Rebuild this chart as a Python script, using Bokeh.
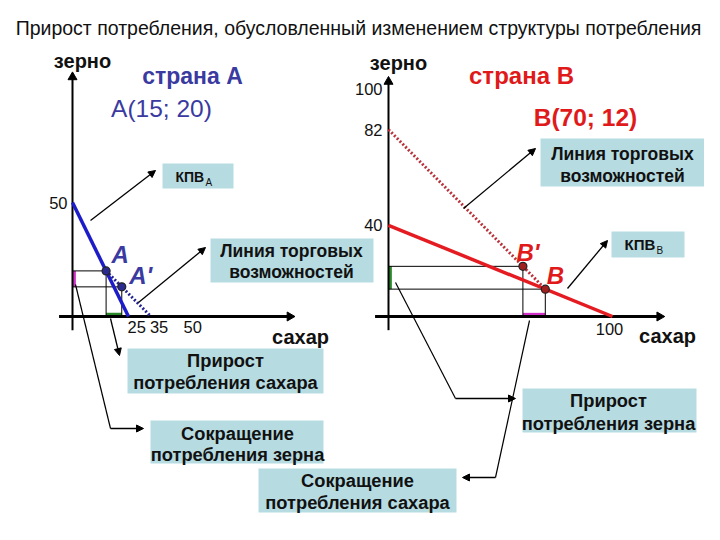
import math
from bokeh.plotting import figure
from bokeh.models import Range1d, Arrow, NormalHead
from bokeh.core.properties import value
from bokeh.embed import file_html
from bokeh.resources import INLINE

FONT = "Liberation Sans"

# ---------------- data ----------------
title_text = "Прирост потребления, обусловленный изменением структуры потребления"
grain_name = "зерно"
sugar_name = "сахар"

# country A
ppf_A_sugar = [0, 25]
ppf_A_grain = [50, 0]
trade_A_sugar = [15, 35]
trade_A_grain = [20, 0]
pts_A_sugar = [15, 22]
pts_A_grain = [20, 13]
pts_A_names = ["А", "А'"]
ticks_A_grain = [50]
ticks_A_sugar = [25, 35, 50]

# country B
ppf_B_sugar = [0, 100]
ppf_B_grain = [40, 0]
trade_B_sugar = [0, 70]
trade_B_grain = [82, 12]
pts_B_sugar = [70, 60]
pts_B_grain = [12, 22]
pts_B_names = ["В", "В'"]
ticks_B_grain = [100, 82, 40]
ticks_B_sugar = [100]

# ---------------- styles ----------------
BLUE = "#1c1cc8"
BLUE_DOT = "#23238f"
BLUE_TXT = "#3a3aa0"
RED = "#e41c22"
RED_DOT = "#b8323c"
RED_TXT = "#e01a1a"
PINK = "#d030c8"
GREEN = "#2a8a2a"
BOXC = "#b6dbe1"

p = figure(width=704, height=524, x_range=Range1d(0, 704), y_range=Range1d(524, 0),
           output_backend="svg", toolbar_location=None, min_border=0,
           x_axis_location=None, y_axis_location=None)
p.grid.visible = False
p.outline_line_color = None


def panel(ox, oy, kx, ky):
    return p.subplot(x_source=Range1d(0, 100), y_source=Range1d(0, 100),
                     x_target=Range1d(ox, ox + 100 * kx),
                     y_target=Range1d(oy, oy - 100 * ky))


sa = panel(72, 316, 2.24, 2.28)
sb = panel(388, 316, 2.24, 2.28)


def txt(target, x, y, t, size, color="#111111", style="normal", align="center",
        baseline="middle", xo=0, yo=0):
    target.text(x=x, y=y, text=t, text_font=value(FONT), text_font_size=f"{size}px",
                text_color=color, text_font_style=style, text_align=align,
                text_baseline=baseline, x_offset=xo, y_offset=yo)


def arrow(x0, y0, x1, y1, size=7, width=1.3):
    p.add_layout(Arrow(end=NormalHead(size=size, fill_color="black", line_color="black"),
                       x_start=x0, y_start=y0, x_end=x1, y_end=y1,
                       line_width=width, line_color="black"))


# title
txt(p, [358], [27], [title_text], 19.5)

# ---------------- boxes ----------------
box_l = [162, 611, 210, 540, 127, 150, 258, 522]
box_r = [233, 684, 373, 705, 323, 323, 456, 696]
box_t = [163, 231, 238, 138, 348, 420, 468, 388]
box_b = [188, 257, 282, 186, 393, 463, 512, 432]
p.quad(left=box_l, right=box_r, top=box_t, bottom=box_b, fill_color=BOXC, line_color=None)

# box texts
txt(p, [175], [176], ["КПВ"], 14, style="bold", align="left")
txt(p, [205], [182], ["А"], 10, align="left")
txt(p, [624], [244], ["КПВ"], 15, style="bold", align="left")
txt(p, [656], [250], ["В"], 10, align="left")
txt(p, [291, 291], [250, 271], ["Линия торговых", "возможностей"], 17.5, style="bold")
txt(p, [622, 622], [153, 175], ["Линия торговых", "возможностей"], 17.5, style="bold")
txt(p, [225, 225], [360, 382], ["Прирост", "потребления сахара"], 18.3, style="bold")
txt(p, [237, 237], [433, 454], ["Сокращение", "потребления зерна"], 18.3, style="bold")
txt(p, [357, 357], [480, 502], ["Сокращение", "потребления сахара"], 18.3, style="bold")
txt(p, [608, 608], [400, 423], ["Прирост", "потребления зерна"], 18.3, style="bold")

# ---------------- panels ----------------
def draw_panel(s, ytop, xright, ppf_s, ppf_g, tr_s, tr_g, ps, pg, col, dcol, ptcol):
    # guides
    s.segment(x0=[0] * len(ps), y0=pg, x1=ps, y1=pg, line_color="black", line_width=1)
    s.segment(x0=ps, y0=[0] * len(ps), x1=ps, y1=pg, line_color="black", line_width=1)
    # axes
    s.segment(x0=[0], y0=[-6], x1=[0], y1=[ytop], line_color="black", line_width=2)
    s.segment(x0=[-6], y0=[0], x1=[xright], y1=[0], line_color="black", line_width=3)
    s.scatter(x=[0], y=[ytop], marker="triangle", size=9, color="black")
    s.scatter(x=[xright], y=[0], marker="triangle", size=9, color="black", angle=-math.pi / 2)
    # lines
    s.line(x=ppf_s, y=ppf_g, line_color=col, line_width=3.5)
    s.line(x=tr_s, y=tr_g, line_color=dcol, line_width=3, line_dash="2 2")
    s.scatter(x=ps, y=pg, size=8, fill_color=ptcol, line_color="#222222", line_width=1.2)


# axis markers (consumption changes)
sa.quad(left=[0], right=[1.5], bottom=[min(pts_A_grain)], top=[max(pts_A_grain)],
        fill_color=PINK, line_color=None)
sa.quad(left=[min(pts_A_sugar)], right=[max(pts_A_sugar)], bottom=[0], top=[1.6],
        fill_color=GREEN, line_color=None)
sb.quad(left=[0], right=[1.5], bottom=[min(pts_B_grain)], top=[max(pts_B_grain)],
        fill_color=GREEN, line_color=None)
sb.quad(left=[min(pts_B_sugar)], right=[max(pts_B_sugar)], bottom=[0], top=[1.6],
        fill_color=PINK, line_color=None)

draw_panel(sa, 105, 97, ppf_A_sugar, ppf_A_grain, trade_A_sugar, trade_A_grain,
           pts_A_sugar, pts_A_grain, BLUE, BLUE_DOT, "#2a2a90")
draw_panel(sb, 103, 121, ppf_B_sugar, ppf_B_grain, trade_B_sugar, trade_B_grain,
           pts_B_sugar, pts_B_grain, RED, RED_DOT, "#a02020")

# tick labels
txt(sa, [0] * len(ticks_A_grain), ticks_A_grain, [str(v) for v in ticks_A_grain], 16.5,
    align="right", xo=-5)
txt(sa, ticks_A_sugar, [0] * len(ticks_A_sugar), [str(v) for v in ticks_A_sugar], 16.5,
    align="left", baseline="top", xo=-1, yo=4)
txt(sb, [0] * len(ticks_B_grain), ticks_B_grain, [str(v) for v in ticks_B_grain], 16.5,
    align="right", xo=-6)
txt(sb, ticks_B_sugar, [0] * len(ticks_B_sugar), [str(v) for v in ticks_B_sugar], 16.5,
    align="center", baseline="top", xo=-3, yo=6)

# point labels
sa.text(x=pts_A_sugar, y=pts_A_grain, text=pts_A_names, x_offset=[14, 19], y_offset=[-16, -11],
        text_font=value(FONT), text_font_size="24px", text_font_style="bold italic",
        text_color=BLUE_TXT, text_align="center", text_baseline="middle")
sb.text(x=pts_B_sugar, y=pts_B_grain, text=pts_B_names, x_offset=[10, 5], y_offset=[-14, -14],
        text_font=value(FONT), text_font_size="24px", text_font_style="bold italic",
        text_color=RED_TXT, text_align="center", text_baseline="middle")

# axis names and headings
txt(p, [82, 398], [60, 62], [grain_name, grain_name], 20, style="bold")
txt(p, [300, 667], [336, 335], [sugar_name, sugar_name], 20, style="bold")
txt(p, [192], [75], ["страна А"], 23, color=BLUE_TXT, style="bold")
txt(p, [161], [108], ["А(15; 20)"], 24.5, color=BLUE_TXT)
txt(p, [521], [75], ["страна В"], 24, color=RED_TXT, style="bold")
txt(p, [585], [117], ["В(70; 12)"], 24.5, color=RED_TXT, style="bold")

# pointer arrows
arrow(90, 220, 155, 170)
arrow(138, 302, 205, 247)
arrow(463, 208, 535, 148)
arrow(567, 288, 607, 240)

# leaders from axis markers to boxes
p.line(x=[75, 110], y=[284, 428], line_color="black", line_width=1.2)
arrow(110, 428, 143, 428)
arrow(110, 318, 119, 355)
p.line(x=[395, 455], y=[282, 398], line_color="black", line_width=1.2)
arrow(455, 398, 515, 398)
p.line(x=[529, 495], y=[320, 477], line_color="black", line_width=1.2)
arrow(495, 477, 462, 477)

open("out.html", "w").write(file_html(p, INLINE))
